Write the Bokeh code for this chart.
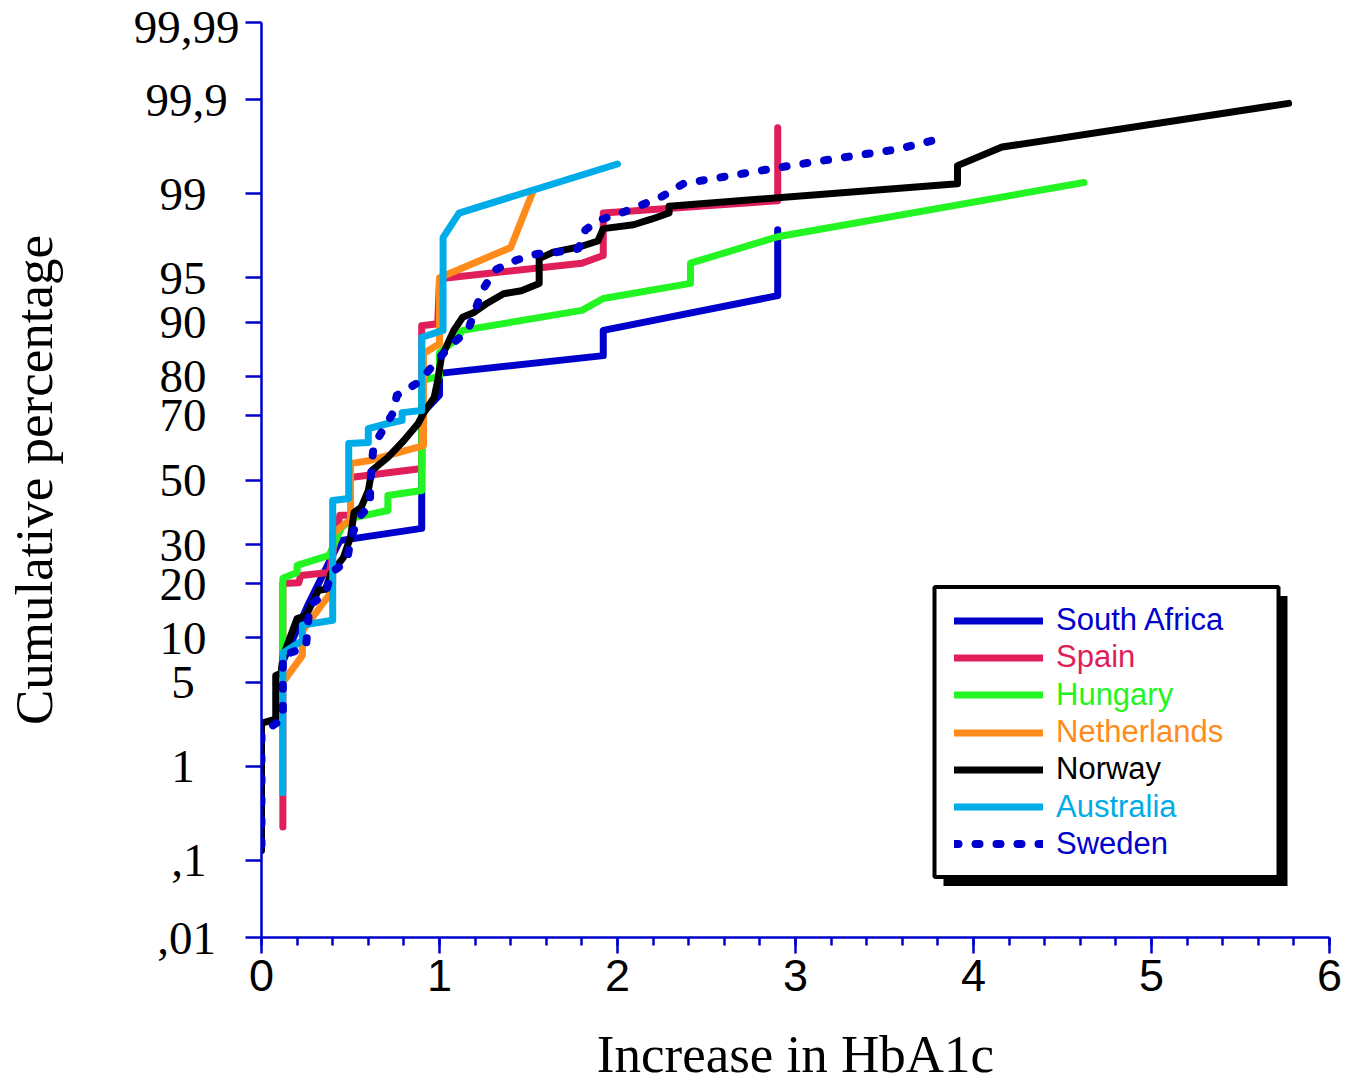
from statistics import NormalDist
from bokeh.plotting import figure
from bokeh.models import Range1d, FixedTicker, SingleIntervalTicker, Legend, LegendItem, BoxAnnotation
from bokeh.embed import file_html
from bokeh.resources import INLINE

# ---------------- data (x = increase in HbA1c, p = cumulative percentage) ----------------
series_names = ["South Africa", "Spain", "Hungary", "Netherlands", "Norway", "Australia", "Sweden"]
series_colors = ["#0000CC", "#E01E5A", "#22F522", "#FF8C1A", "#000000", "#00ACE8", "#0000CC"]

south_africa_x = [0.12, 0.26, 0.44, 0.9, 0.9, 1.0, 1.0, 1.92, 1.92, 2.9, 2.9]
south_africa_p = [7.0, 15.4, 31.1, 34.7, 70.5, 75.5, 80.7, 84.4, 88.8, 93.3, 97.9]

spain_x = [0.12, 0.12, 0.21, 0.22, 0.38, 0.44, 0.5, 0.5, 0.9, 0.9, 0.99, 1.0, 1.8, 1.92, 1.92, 2.9, 2.9]
spain_p = [0.24, 20.0, 20.2, 21.9, 22.6, 38.7, 38.7, 50.8, 53.7, 89.5, 89.8, 94.9, 96.1, 96.6, 98.5, 98.84, 99.79]

hungary_x = [0.12, 0.12, 0.2, 0.2, 0.38, 0.45, 0.52, 0.71, 0.71, 0.9, 0.9, 1.0, 1.0, 1.08, 1.13, 1.8, 1.92, 2.41, 2.41, 2.9, 4.62]
hungary_p = [8.0, 21.2, 22.6, 24.4, 27.0, 35.0, 38.0, 40.2, 45.0, 46.6, 79.1, 80.0, 85.0, 87.0, 88.8, 91.6, 93.0, 94.5, 96.1, 97.6, 99.22]

netherlands_x = [0.12, 0.23, 0.23, 0.38, 0.4, 0.4, 0.47, 0.5, 0.5, 0.6, 0.91, 0.91, 1.0, 1.0, 1.4, 1.52]
netherlands_p = [5.0, 7.7, 11.0, 17.5, 20.0, 33.0, 36.2, 37.0, 55.3, 56.2, 61.0, 84.8, 86.6, 95.0, 97.06, 99.0]

norway_x = [0, 0, 0.08, 0.08, 0.11, 0.12, 0.2, 0.25, 0.32, 0.36, 0.39, 0.46, 0.48, 0.5, 0.52, 0.56,
            0.6, 0.62, 0.71, 0.8, 0.88, 0.91, 0.97, 0.99, 1.01, 1.08, 1.13, 1.19, 1.27, 1.36, 1.46,
            1.56, 1.56, 1.64, 1.79, 1.89, 1.92, 2.09, 2.19, 2.29, 2.29, 3.91, 3.91, 4.16, 5.77]
norway_p = [0.13, 2.4, 2.6, 5.6, 5.8, 7.5, 13.0, 13.5, 18.5, 18.7, 22.4, 26.4, 29.2, 32.0, 39.6, 41.2,
            46.6, 53.1, 57.3, 62.6, 67.7, 70.6, 74.9, 79.1, 84.0, 88.8, 90.7, 91.3, 92.5, 93.5, 93.8,
            94.5, 96.4, 96.8, 97.1, 97.4, 97.95, 98.1, 98.3, 98.5, 98.7, 99.2, 99.47, 99.66, 99.89]

australia_x = [0.12, 0.12, 0.23, 0.23, 0.4, 0.4, 0.49, 0.49, 0.6, 0.6, 0.71, 0.79, 0.79, 0.9, 0.9, 1.02, 1.02, 1.11, 2.0]
australia_p = [0.55, 8.0, 9.6, 11.9, 12.7, 43.4, 44.0, 61.7, 62.0, 66.2, 67.7, 68.6, 70.8, 71.4, 87.7, 88.8, 97.56, 98.5, 99.49]

sweden_x = [0, 0, 0.12, 0.12, 0.25, 0.26, 0.27, 0.36, 0.39, 0.48, 0.5, 0.54, 0.61, 0.61, 0.62, 0.63,
            0.69, 0.74, 0.76, 0.88, 0.93, 1.01, 1.08, 1.16, 1.2, 1.24, 1.31, 1.43, 1.55, 1.66, 1.78,
            1.82, 1.89, 2.01, 2.13, 2.25, 2.37, 2.61, 2.97, 3.33, 3.57, 3.8]
sweden_p = [0.15, 2.0, 2.6, 7.7, 8.7, 11.9, 15.4, 17.8, 22.4, 25.6, 31.1, 37.7, 41.8, 48.2, 55.3, 61.0,
            66.5, 70.8, 75.4, 78.6, 80.9, 84.4, 86.8, 88.8, 91.6, 93.8, 95.6, 96.3, 96.7, 96.8, 97.0,
            97.9, 98.25, 98.48, 98.72, 98.94, 99.20, 99.32, 99.47, 99.58, 99.64, 99.72]

y_tick_pct = [0.01, 0.1, 1, 5, 10, 20, 30, 50, 70, 80, 90, 95, 99, 99.9, 99.99]
y_tick_labels = [",01", ",1", "1", "5", "10", "20", "30", "50", "70", "80", "90", "95", "99", "99,9", "99,99"]
x_ticks = [0, 1, 2, 3, 4, 5, 6]

# ---------------- probability (probit) scale ----------------
nd = NormalDist()
def probit(pct):
    return nd.inv_cdf(pct / 100.0)

xs = [south_africa_x, spain_x, hungary_x, netherlands_x, norway_x, australia_x, sweden_x]
ps = [south_africa_p, spain_p, hungary_p, netherlands_p, norway_p, australia_p, sweden_p]

# ---------------- layout ----------------
FW, FH = 1068, 915
ML, MT, MR = 261, 22, 16
W, H = ML + FW + MR, 1086
ymin, ymax = probit(y_tick_pct[0]), probit(y_tick_pct[-1])
xmin, xmax = x_ticks[0], x_ticks[-1]

BLUE = "#0000CC"
SERIF = "Liberation Serif"
SANS = "Liberation Sans"

p = figure(width=W, height=H, x_range=Range1d(xmin, xmax), y_range=Range1d(ymin, ymax),
           output_backend="svg", toolbar_location=None,
           min_border_left=ML, min_border_top=MT, min_border_right=MR,
           min_border_bottom=H - MT - FH)
p.outline_line_color = None
p.grid.visible = False
p.background_fill_color = "white"
p.border_fill_color = "white"

# x axis
xa = p.xaxis[0]
xa.ticker = SingleIntervalTicker(interval=1, num_minor_ticks=5)
xa.axis_line_color = BLUE
xa.axis_line_width = 2.5
xa.major_tick_line_color = BLUE
xa.major_tick_line_width = 2.5
xa.minor_tick_line_color = BLUE
xa.minor_tick_line_width = 2.5
xa.major_tick_in = 0
xa.major_tick_out = 16
xa.minor_tick_in = 0
xa.minor_tick_out = 8
xa.major_label_text_font = SANS
xa.major_label_text_font_size = "45px"
xa.major_label_text_color = "black"
xa.major_label_standoff = 6
xa.axis_label = "Increase in HbA1c"
xa.axis_label_text_font = SERIF
xa.axis_label_text_font_style = "normal"
xa.axis_label_text_font_size = "53px"
xa.axis_label_text_color = "black"
xa.axis_label_standoff = 31

# y axis (probit positions of percentage ticks)
NB = "\u00a0"
pads = {1: NB * 3 + "\u2009", 2: NB * 2 + "\u2009", 3: NB * 2, 4: NB, 5: ""}
y_ticks = [probit(v) for v in y_tick_pct]
ya = p.yaxis[0]
ya.ticker = FixedTicker(ticks=y_ticks, minor_ticks=[])
ya.major_label_overrides = {t: lab + pads[len(lab)] for t, lab in zip(y_ticks, y_tick_labels)}
ya.axis_line_color = BLUE
ya.axis_line_width = 2.5
ya.major_tick_line_color = BLUE
ya.major_tick_line_width = 2.5
ya.major_tick_in = 0
ya.major_tick_out = 16
ya.minor_tick_out = 0
ya.minor_tick_in = 0
ya.major_label_text_font = SERIF
ya.major_label_text_font_size = "47px"
ya.major_label_text_color = "black"
ya.major_label_standoff = 6
ya.axis_label = "Cumulative percentage"
ya.axis_label_text_font = SERIF
ya.axis_label_text_font_style = "normal"
ya.axis_label_text_font_size = "53px"
ya.axis_label_text_color = "black"
ya.axis_label_standoff = 68

# ---------------- series ----------------
renderers = []
for name, color, x, pct in zip(series_names, series_colors, xs, ps):
    z = [probit(v) for v in pct]
    if name == "Sweden":
        r = p.line(x, z, line_color=color, line_width=8, line_dash="4 17",
                   line_cap="round", line_join="round")
    else:
        r = p.line(x, z, line_color=color, line_width=7, line_cap="round", line_join="round")
    renderers.append(r)

# ---------------- legend (box with shadow, coloured labels) ----------------
def sx_to_x(px):  # page pixel -> data x
    return xmin + (px - ML) / FW * (xmax - xmin)

def sy_to_y(py):  # page pixel -> data y
    return ymax - (py - MT) / FH * (ymax - ymin)

box_l, box_r, box_t, box_b = 934, 1278, 586.5, 876.5
shadow = 9
p.add_layout(BoxAnnotation(left=sx_to_x(box_l + shadow), right=sx_to_x(box_r + shadow),
                           top=sy_to_y(box_t + shadow), bottom=sy_to_y(box_b + shadow),
                           fill_color="black", fill_alpha=1, line_color=None, level="annotation"))
p.add_layout(BoxAnnotation(left=sx_to_x(box_l), right=sx_to_x(box_r),
                           top=sy_to_y(box_t), bottom=sy_to_y(box_b),
                           fill_color="white", fill_alpha=1, line_color="black", line_width=4,
                           line_alpha=1, level="annotation"))

row_h = 37.3
first_row = 620
frame_bottom_page = MT + FH
for i, (name, color, r) in enumerate(zip(series_names, series_colors, renderers)):
    center = first_row + i * row_h
    leg = Legend(items=[LegendItem(label=name, renderers=[r])],
                 location=(954 - ML, frame_bottom_page - (center + row_h / 2)),
                 orientation="vertical", border_line_color=None, background_fill_alpha=0,
                 padding=0, margin=0, spacing=0, glyph_width=89, glyph_height=int(row_h),
                 label_height=int(row_h), label_standoff=13,
                 label_text_font=SANS, label_text_font_size="31px",
                 label_text_color=color, label_text_baseline="middle")
    p.add_layout(leg)

open("out.html", "w").write(file_html(p, INLINE))
